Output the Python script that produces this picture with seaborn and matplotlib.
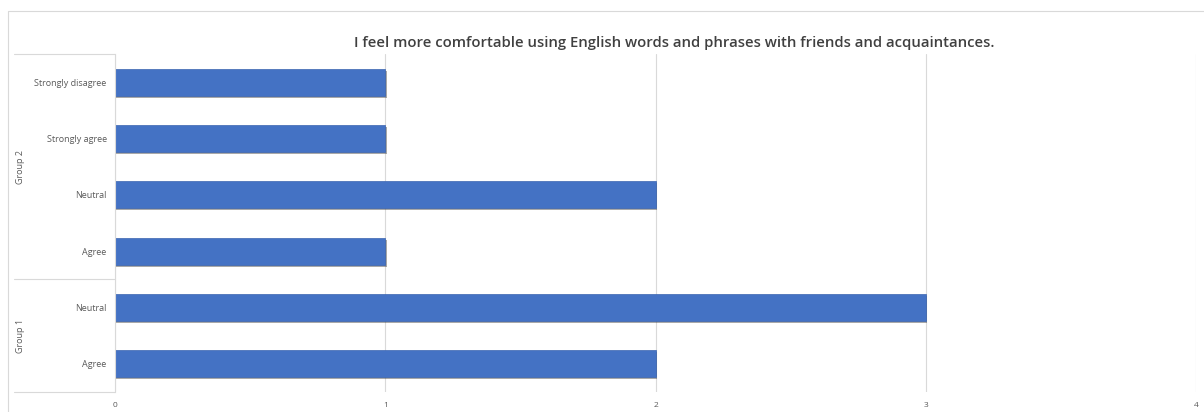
import numpy as np
import pandas as pd
import matplotlib.pyplot as plt
import matplotlib.patheffects as pe
from matplotlib.lines import Line2D
import seaborn as sns

sns.set_theme(style="white")
plt.rcParams['font.family'] = ['Open Sans', 'DejaVu Sans']

# data, top row first
groups = ["Group 2", "Group 2", "Group 2", "Group 2", "Group 1", "Group 1"]
answers = ["Strongly disagree", "Strongly agree", "Neutral", "Agree", "Neutral", "Agree"]
counts = [1, 1, 2, 1, 3, 2]
xticks = [0, 1, 2, 3, 4]
title = "I feel more comfortable using English words and phrases with friends and acquaintances."

df = pd.DataFrame({"group": groups, "answer": answers, "count": counts})
df["key"] = df["group"] + " | " + df["answer"]

fig = plt.figure(figsize=(12.04, 4.12), dpi=100)
ax = fig.add_axes([0.0955, 0.0485, 0.8979, 0.8205])

sns.barplot(data=df, x="count", y="key", orient="h", color="#4472c4",
            saturation=1, width=0.48, ax=ax)
for p in ax.patches:
    p.set_path_effects([pe.SimplePatchShadow(offset=(1, -1.5), shadow_rgbFace="#404040", alpha=0.45),
                        pe.Normal()])
    p.set_edgecolor("#3a64b0")
    p.set_linewidth(0.5)

ax.set_xlim(0, 4)
ax.set_xticks(xticks)
ax.set_xticklabels([str(t) for t in xticks], fontsize=6, color="#595959")
ax.set_yticklabels(answers, fontsize=6.5, color="#595959")
ax.tick_params(axis="both", length=0, pad=6)
ax.tick_params(axis="x", pad=7)
ax.set_xlabel("")
ax.set_ylabel("")
ax.grid(axis="x", color="#d9d9d9", linewidth=0.8)
ax.set_axisbelow(True)
for s in ["top", "right", "bottom"]:
    ax.spines[s].set_visible(False)
ax.spines["left"].set_color("#d9d9d9")
ax.spines["left"].set_linewidth(0.8)

# group brackets on the left
n = len(answers)
tr = ax.get_yaxis_transform()
x_left = (14 - 115) / (1196 - 115)
bounds = [-0.5]
for i in range(1, n):
    if groups[i] != groups[i - 1]:
        bounds.append(i - 0.5)
bounds.append(n - 0.5)
for b in bounds:
    ax.add_line(Line2D([x_left, 0], [b, b], transform=tr, color="#d9d9d9",
                       linewidth=0.8, clip_on=False))
for g in dict.fromkeys(groups):
    idx = [i for i, gg in enumerate(groups) if gg == g]
    ax.text((21 - 115) / (1196 - 115), np.mean(idx), g, transform=tr, rotation=90,
            ha="center", va="center", fontsize=6.5, color="#595959")

fig.text(674 / 1204, 1 - 43 / 412, title, ha="center", va="center",
         fontsize=10.7, fontweight="semibold", color="#404040")

# chart frame: only top and left edges visible in the picture
fig.add_artist(Line2D([8 / 1204, 8 / 1204, 1.0], [0.0, 1 - 11 / 412, 1 - 11 / 412],
                      transform=fig.transFigure, color="#d9d9d9", linewidth=0.8))

fig.savefig("out.png", dpi=100)
